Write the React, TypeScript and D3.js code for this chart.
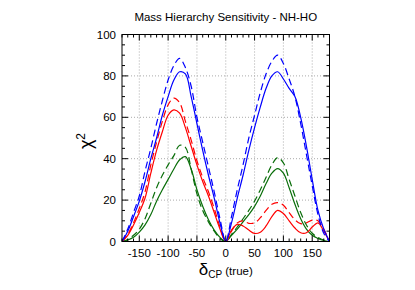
import * as d3 from "d3";

const width = 415;
const height = 290;
const margin = { left: 122, right: 85.5, top: 34.5, bottom: 48.5 };

// delta_CP (true), degrees
const deltas = [
  -180, -170, -160, -150, -140, -130, -120, -110, -100, -90, -80, -70, -60, -50, -40, -30, -20, -10, 0,
  10, 20, 30, 40, 50, 60, 70, 80, 90, 100, 110, 120, 130, 140, 150, 160, 170, 180,
];

const blueSolid = [
  0, 5, 12, 19.5, 29, 40, 50, 61, 70, 78, 82, 81, 70, 57, 44, 32, 21, 9, 0,
  9, 21, 32, 44, 55, 65, 74, 80, 82, 78.5, 74, 70, 60, 46, 30, 15, 6, 0,
];
const blueDashed = [
  0, 6, 14, 22, 34, 45, 57, 68, 78, 85, 88.5, 84, 75, 60, 48, 36, 24, 11, 0,
  12, 25, 37, 50, 61, 72, 81, 87, 90, 86, 78.5, 70, 57, 42, 27, 13, 4, 0,
];
const redSolid = [
  0, 3, 8, 14, 21, 33, 44, 53, 61, 63.6, 62, 55, 46, 37, 29, 22, 14, 6, 0,
  5.5, 8.3, 7.5, 5.5, 3.9, 4.5, 7.5, 12, 15, 13.5, 10, 6.5, 4.2, 4.2, 7, 9, 5, 0,
];
const redDashed = [
  0, 3.5, 9, 16, 24, 37, 48, 58, 66, 69.3, 67, 58, 49, 39, 31, 24, 16, 7, 0,
  5, 9, 10, 8.8, 9, 11.5, 15, 18, 18.8, 17.5, 14, 10.5, 8.6, 9, 10.3, 10, 6, 0,
];
const greenSolid = [
  0, 0.7, 2, 4.5, 8, 13, 19.5, 25, 30, 35, 39.5, 41, 35, 25, 17, 10.5, 5.5, 2, 0,
  3, 6, 9.5, 13, 17, 22, 28, 33, 35.2, 33, 26, 18, 11, 6, 3, 1.5, 0.5, 0,
];
const greenDashed = [
  0, 1, 3, 6, 11, 18.5, 26, 32, 37, 41.5, 46.5, 45.5, 35, 23, 15, 9.5, 5, 1.5, 0,
  3.5, 7, 11, 15, 19.5, 25, 31, 37, 40.5, 38, 30, 22, 14, 8, 4, 2, 0.7, 0,
];

const xTicks = [-150, -100, -50, 0, 50, 100, 150];
const yTicks = [0, 20, 40, 60, 80, 100];

const series = [
  { values: greenSolid, color: "#0a6e0a", dash: null },
  { values: greenDashed, color: "#0a6e0a", dash: "7,4" },
  { values: redSolid, color: "#ff0000", dash: null },
  { values: redDashed, color: "#ff0000", dash: "7,4" },
  { values: blueSolid, color: "#0000ff", dash: null },
  { values: blueDashed, color: "#0000ff", dash: "7,4" },
];

const font = "'Liberation Sans', Arial, sans-serif";

export default function App() {
  const x = d3.scaleLinear().domain([-180, 180]).range([margin.left, width - margin.right]);
  const y = d3.scaleLinear().domain([0, 100]).range([height - margin.bottom, margin.top]);
  const [x0, x1] = x.range();
  const [y0, y1] = y.range();

  const line = d3
    .line<number>()
    .x((_, i) => x(deltas[i]))
    .y((d) => y(d))
    .curve(d3.curveCatmullRom.alpha(0.5));

  const xMinor = d3.range(-180, 181, 10);
  const yMinor = d3.range(0, 101, 5);

  return (
    <svg
      width={width}
      height={height}
      style={{ position: "fixed", left: 0, top: 0, background: "white" }}
      fontFamily={font}
    >
      <defs>
        <clipPath id="plot">
          <rect x={x0} y={y1} width={x1 - x0} height={y0 - y1} />
        </clipPath>
      </defs>
      <rect width={width} height={height} fill="white" />
      <text x={(x0 + x1) / 2} y={21} textAnchor="middle" fontSize={11.5}>
        Mass Hierarchy Sensitivity - NH-HO
      </text>

      {/* grid */}
      <g stroke="#aaa" strokeWidth={1} strokeDasharray="1,2">
        {xTicks.map((t) => (
          <line key={"gx" + t} x1={x(t)} x2={x(t)} y1={y0} y2={y1} />
        ))}
        {yTicks.slice(1, -1).map((t) => (
          <line key={"gy" + t} x1={x0} x2={x1} y1={y(t)} y2={y(t)} />
        ))}
      </g>

      {/* curves */}
      <g fill="none" strokeWidth={1.2} clipPath="url(#plot)">
        {series.map((s, i) => (
          <path
            key={i}
            d={line(s.values) ?? ""}
            stroke={s.color}
            strokeDasharray={s.dash ?? undefined}
          />
        ))}
      </g>

      {/* ticks */}
      <g stroke="black" strokeWidth={1}>
        {xMinor.map((t) => {
          const len = t % 50 === 0 ? 6 : 3;
          return (
            <g key={"tx" + t}>
              <line x1={x(t)} x2={x(t)} y1={y0} y2={y0 - len} />
              <line x1={x(t)} x2={x(t)} y1={y1} y2={y1 + len} />
            </g>
          );
        })}
        {yMinor.map((t) => {
          const len = t % 20 === 0 ? 6 : 3;
          return (
            <g key={"ty" + t}>
              <line x1={x0} x2={x0 + len} y1={y(t)} y2={y(t)} />
              <line x1={x1} x2={x1 - len} y1={y(t)} y2={y(t)} />
            </g>
          );
        })}
      </g>
      <rect x={x0} y={y1} width={x1 - x0} height={y0 - y1} fill="none" stroke="black" strokeWidth={1} />

      {/* tick labels */}
      <g fontSize={11.5}>
        {xTicks.map((t) => (
          <text key={"lx" + t} x={x(t)} y={y0 + 15} textAnchor="middle">
            {t}
          </text>
        ))}
        {yTicks.map((t) => (
          <text key={"ly" + t} x={x0 - 6} y={y(t) + 4} textAnchor="end">
            {t}
          </text>
        ))}
      </g>

      {/* axis labels */}
      <text transform={`translate(92,141) rotate(-90)`} textAnchor="middle" fontSize={18}>
        χ<tspan fontSize={12} dy={-7}>2</tspan>
      </text>
      <text x={(x0 + x1) / 2} y={275} textAnchor="middle">
        <tspan fontSize={17}>δ</tspan>
        <tspan fontSize={10} dy={3}>CP</tspan>
        <tspan fontSize={11.5} dy={-3}> (true)</tspan>
      </text>
    </svg>
  );
}
